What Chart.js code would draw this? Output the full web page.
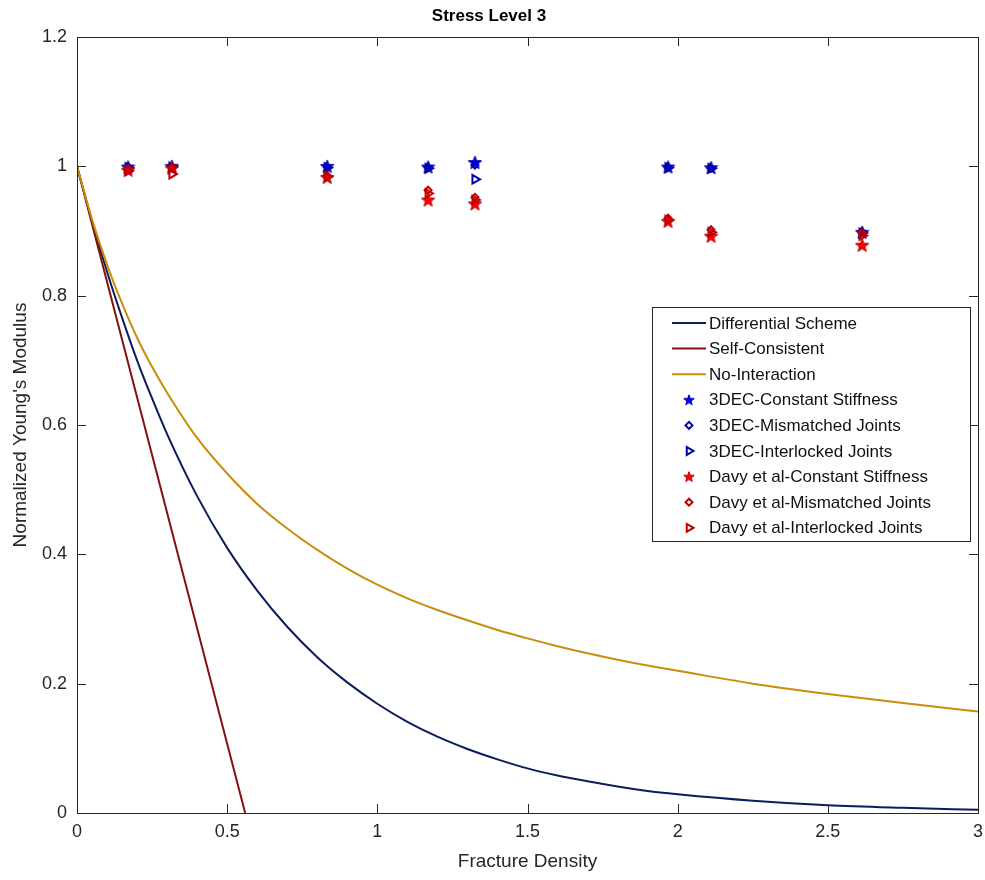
<!DOCTYPE html>
<html>
<head>
<meta charset="utf-8">
<script src="https://cdn.jsdelivr.net/npm/chart.js@4/dist/chart.umd.min.js"></script>
<style>
  html, body { margin: 0; padding: 0; background: #fff; }
  #wrap { width: 985px; height: 880px; }
</style>
</head>
<body>
<div id="wrap"><canvas id="chart" width="985" height="880"></canvas></div>
<script>
// tick labels
const xTicks = [0, 0.5, 1, 1.5, 2, 2.5, 3];
const yTicks = [0, 0.2, 0.4, 0.6, 0.8, 1, 1.2];

// model curves
const curveDensity = [0, 0.05, 0.1, 0.15, 0.2, 0.25, 0.3, 0.4, 0.5, 0.6, 0.7, 0.8, 0.9, 1.0, 1.1, 1.2, 1.3, 1.4, 1.5, 1.6, 1.7, 1.8, 1.9, 2.0, 2.25, 2.5, 2.75, 3.0];
const differential = [1, 0.915, 0.837, 0.766, 0.70, 0.641, 0.586, 0.49, 0.41, 0.344, 0.288, 0.241, 0.202, 0.169, 0.141, 0.118, 0.099, 0.083, 0.069, 0.058, 0.049, 0.041, 0.034, 0.029, 0.019, 0.012, 0.008, 0.005];
const noInteraction = [1, 0.918, 0.848, 0.788, 0.735, 0.69, 0.65, 0.58, 0.525, 0.478, 0.44, 0.407, 0.378, 0.353, 0.332, 0.314, 0.298, 0.283, 0.27, 0.258, 0.247, 0.237, 0.228, 0.22, 0.2, 0.184, 0.17, 0.157];
const selfDensity = [0, 0.56];
const selfConsistent = [1, 0];

// simulation results
const density = [0.17, 0.316, 0.833, 1.169, 1.325, 1.968, 2.111, 2.614];
const dec3Constant = [0.999, 1.0, 1.0, 0.999, 1.006, 0.999, 0.998, 0.898];
const dec3Mismatched = [0.999, 0.999, 0.999, 0.998, 1.002, 0.998, 0.997, 0.899];
const dec3Interlocked = [0.998, 0.999, 0.998, 0.997, 0.98, 0.998, 0.997, 0.897];
const davyConstant = [0.994, 0.997, 0.983, 0.948, 0.942, 0.915, 0.892, 0.878];
const davyMismatched = [0.996, 0.999, 0.986, 0.963, 0.952, 0.92, 0.902, 0.897];
const davyInterlocked = [0.993, 0.988, 0.984, 0.958, 0.948, 0.917, 0.898, 0.893];

const toPts = (xs, ys) => xs.map((x, i) => ({ x: x, y: ys[i] }))

function makeStar(size, fill, edge) {
    const c = document.createElement('canvas')
    c.width = size; c.height = size
    const g = c.getContext('2d')
    const cx = size / 2, cy = size / 2 + 0.5
    const ro = size / 2 - 0.5, ri = ro * 0.42
    g.beginPath()
    for (let i = 0; i < 10; i++) {
        const r = i % 2 === 0 ? ro : ri
        const a = -Math.PI / 2 + i * Math.PI / 5
        const px = cx + r * Math.cos(a), py = cy + r * Math.sin(a)
        if (i === 0) g.moveTo(px, py); else g.lineTo(px, py)
    }
    g.closePath()
    g.fillStyle = fill
    g.fill()
    g.lineWidth = 1
    g.strokeStyle = edge
    g.stroke()
    return c
}

const blueStar = makeStar(15, '#0000ff', '#0000b0')
const redStar = makeStar(15, '#ff0000', '#b00000')
const blueStarSmall = makeStar(12, '#0000ff', '#0000b0')
const redStarSmall = makeStar(12, '#ff0000', '#b00000')

const lineDs = (label, xs, ys, color) => ({
    label: label,
    data: toPts(xs, ys),
    showLine: true,
    borderColor: color,
    backgroundColor: color,
    borderWidth: 2,
    pointRadius: 0,
    cubicInterpolationMode: 'monotone',
    clip: 0
})

const markerDs = (label, ys, style, edge, fill, radius, rotation, legendStyle) => ({
    label: label,
    data: toPts(density, ys),
    showLine: false,
    pointStyle: style,
    pointRotation: rotation,
    pointRadius: radius,
    pointBorderWidth: 2,
    borderColor: edge,
    backgroundColor: fill,
    legendStyle: legendStyle
})

const datasets = [
    lineDs('Differential Scheme', curveDensity, differential, '#0c1c5c'),
    lineDs('Self-Consistent', selfDensity, selfConsistent, '#841010'),
    lineDs('No-Interaction', curveDensity, noInteraction, '#c98d0c'),
    markerDs('3DEC-Constant Stiffness', dec3Constant, blueStar, '#0000b0', '#0000ff', 7.5, 0, blueStarSmall),
    markerDs('3DEC-Mismatched Joints', dec3Mismatched, 'rectRot', '#0000a8', 'rgba(0,0,0,0)', 3.5, 0),
    markerDs('3DEC-Interlocked Joints', dec3Interlocked, 'triangle', '#0000a8', 'rgba(0,0,0,0)', 5, 90),
    markerDs('Davy et al-Constant Stiffness', davyConstant, redStar, '#b00000', '#ff0000', 7.5, 0, redStarSmall),
    markerDs('Davy et al-Mismatched Joints', davyMismatched, 'rectRot', '#c00000', 'rgba(0,0,0,0)', 3.5, 0),
    markerDs('Davy et al-Interlocked Joints', davyInterlocked, 'triangle', '#c00000', 'rgba(0,0,0,0)', 5, 90)
]
// later series on top, like the original plot
datasets.forEach((d, i) => { d.order = datasets.length - i })

const frameColor = '#262626'

const framePlugin = {
    id: 'frame',
    afterDatasetsDraw(chart) {
        const { ctx, chartArea: a, scales } = chart
        ctx.save()
        ctx.strokeStyle = frameColor
        ctx.lineWidth = 1
        ctx.beginPath()
        const tl = 9
        xTicks.forEach(v => {
            const px = Math.round(scales.x.getPixelForValue(v)) + 0.5
            ctx.moveTo(px, a.bottom); ctx.lineTo(px, a.bottom - tl)
            ctx.moveTo(px, a.top); ctx.lineTo(px, a.top + tl)
        })
        yTicks.forEach(v => {
            const py = Math.round(scales.y.getPixelForValue(v)) + 0.5
            ctx.moveTo(a.left, py); ctx.lineTo(a.left + tl, py)
            ctx.moveTo(a.right, py); ctx.lineTo(a.right - tl, py)
        })
        ctx.stroke()
        ctx.strokeRect(Math.round(a.left) + 0.5, Math.round(a.top) + 0.5, Math.round(a.right - a.left), Math.round(a.bottom - a.top))
        ctx.restore()
    }
}

const legendPlugin = {
    id: 'boxLegend',
    afterDraw(chart) {
        const { ctx } = chart
        const x0 = 652, y0 = 307, w = 318, h = 234
        ctx.save()
        ctx.fillStyle = '#ffffff'
        ctx.fillRect(x0, y0, w, h)
        ctx.strokeStyle = frameColor
        ctx.lineWidth = 1
        ctx.strokeRect(x0 + 0.5, y0 + 0.5, w, h)
        ctx.font = '17px Arial, "Liberation Sans", sans-serif'
        ctx.textBaseline = 'middle'
        chart.data.datasets.forEach((ds, i) => {
            const y = y0 + 16 + i * 25.6
            if (ds.showLine) {
                ctx.strokeStyle = ds.borderColor
                ctx.lineWidth = 2
                ctx.beginPath()
                ctx.moveTo(672, y); ctx.lineTo(706, y)
                ctx.stroke()
            } else {
                ctx.strokeStyle = ds.borderColor
                ctx.fillStyle = ds.backgroundColor
                Chart.helpers.drawPoint(ctx, {
                    pointStyle: ds.legendStyle || ds.pointStyle,
                    rotation: ds.pointRotation,
                    radius: ds.pointStyle === 'triangle' ? 4.5 : 3.5,
                    borderWidth: 2
                }, 689, y)
            }
            ctx.fillStyle = '#111111'
            ctx.fillText(ds.label, 709, y + 1)
        })
        ctx.restore()
    }
}

const chart = new Chart(document.getElementById('chart').getContext('2d'), {
    type: 'scatter',
    data: { datasets: datasets },
    options: {
        responsive: false,
        animation: false,
        events: [],
        layout: { autoPadding: false, padding: { left: 0, right: 7, top: 0, bottom: 0 } },
        plugins: {
            legend: { display: false },
            tooltip: { enabled: false },
            title: {
                display: true,
                text: 'Stress Level 3',
                color: '#000000',
                font: { family: 'Arial, "Liberation Sans", sans-serif', size: 17, weight: 'bold' },
                padding: { top: 6, bottom: 10.6 }
            }
        },
        scales: {
            x: {
                type: 'linear',
                min: 0,
                max: 3,
                afterBuildTicks: s => { s.ticks = xTicks.map(v => ({ value: v })) },
                afterFit: s => { s.height = 67; s.paddingLeft = 0; s.paddingRight = 0 },
                grid: { display: false, drawTicks: false },
                border: { display: false },
                ticks: {
                    padding: 8,
                    maxRotation: 0,
                    color: '#262626',
                    font: { family: 'Arial, "Liberation Sans", sans-serif', size: 18 },
                    callback: v => String(v)
                },
                title: {
                    display: true,
                    text: 'Fracture Density',
                    color: '#262626',
                    font: { family: 'Arial, "Liberation Sans", sans-serif', size: 19 },
                    padding: { top: 0, bottom: 6.6 }
                }
            },
            y: {
                type: 'linear',
                min: 0,
                max: 1.2,
                afterBuildTicks: s => { s.ticks = yTicks.map(v => ({ value: v })) },
                afterFit: s => { s.width = 77 },
                grid: { display: false, drawTicks: false },
                border: { display: false },
                ticks: {
                    padding: 10,
                    color: '#262626',
                    font: { family: 'Arial, "Liberation Sans", sans-serif', size: 18 },
                    callback: v => String(v)
                },
                title: {
                    display: true,
                    text: "Normalized Young's Modulus",
                    color: '#262626',
                    font: { family: 'Arial, "Liberation Sans", sans-serif', size: 19 },
                    padding: { top: 9, bottom: 0 }
                }
            }
        }
    },
    plugins: [framePlugin, legendPlugin]
})
</script>
</body>
</html>
